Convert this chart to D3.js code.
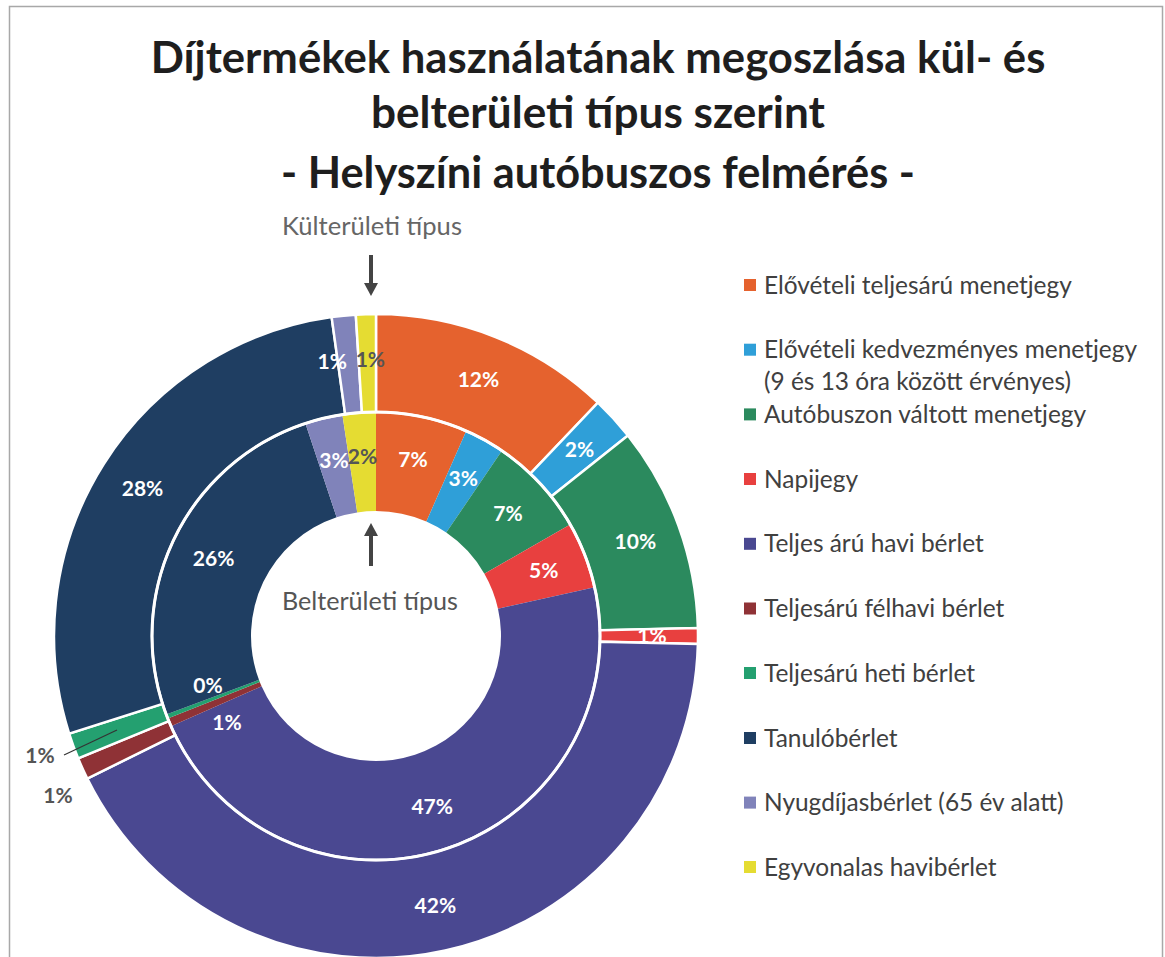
<!DOCTYPE html>
<html>
<head>
<meta charset="utf-8">
<script src="https://cdn.jsdelivr.net/npm/d3@7"></script>
<style>
  body { margin: 0; background: #fff; }
  svg text { font-family: Lato, "Open Sans", sans-serif; }
</style>
</head>
<body>
<div id="chart"></div>
<script>
// ticket types (legend order = slice order, clockwise from 12 o'clock)
var categories = [
  "Elővételi teljesárú menetjegy",
  "Elővételi kedvezményes menetjegy\n(9 és 13 óra között érvényes)",
  "Autóbuszon váltott menetjegy",
  "Napijegy",
  "Teljes árú havi bérlet",
  "Teljesárú félhavi bérlet",
  "Teljesárú heti bérlet",
  "Tanulóbérlet",
  "Nyugdíjasbérlet (65 év alatt)",
  "Egyvonalas havibérlet"
];
// outer ring: Külterületi típus (%)
var kulterulet = [12.1, 2.2, 10.3, 0.8, 42.3, 1.1, 1.3, 27.7, 1.2, 1.0];
// inner ring: Belterületi típus (%)
var belterulet = [6.6, 2.9, 7.2, 4.8, 46.9, 0.6, 0.3, 25.6, 2.7, 2.4];
var colors = ["#E5622E", "#2F9FD8", "#2B8A5E", "#E8403F", "#4A4891",
              "#8F3236", "#24A070", "#1F3E62", "#8083BA", "#E5DC32"];
var titleLines = [
  "Díjtermékek használatának megoszlása kül- és",
  "belterületi típus szerint",
  "- Helyszíni autóbuszos felmérés -"
];

var W = 1165, H = 957;
var cx = 376, cy = 636;
var rHole = 125, rMid = 224, rOut = 322;

var svg = d3.select("#chart").append("svg")
    .attr("width", W)
    .attr("height", H);

// frame
svg.append("rect")
    .attr("x", 9.5).attr("y", 6.5)
    .attr("width", 1153).attr("height", 980)
    .attr("fill", "none")
    .attr("stroke", "#a8a8a8")
    .attr("stroke-width", 1.5);

function fit(sel, w) {
  var len = sel.node().getComputedTextLength();
  sel.attr("font-size", parseFloat(sel.attr("font-size")) * w / len);
}

// title
var titleY = [73, 128, 188], titleW = [895, 454, 634];
titleLines.forEach(function(t, i) {
  var tx = svg.append("text")
      .attr("x", 598).attr("y", titleY[i])
      .attr("text-anchor", "middle")
      .attr("font-size", 40)
      .attr("font-weight", 700)
      .attr("fill", "#1e1e1e")
      .text(t);
  fit(tx, titleW[i]);
});

var scaleColor = d3.scaleOrdinal().domain(categories).range(colors);
var pie = d3.pie().sort(null).value(function(d) { return d; });

var g = svg.append("g").attr("transform", "translate(" + cx + "," + cy + ")");

var arcIn = d3.arc().innerRadius(rHole).outerRadius(rMid);
var arcOut = d3.arc().innerRadius(rMid).outerRadius(rOut);
var labIn = d3.arc().innerRadius(180).outerRadius(180);
var labOut = d3.arc().innerRadius(276).outerRadius(276);

var pIn = pie(belterulet), pOut = pie(kulterulet);

g.append("g").attr("class", "inner").selectAll("path").data(pIn).enter().append("path")
    .attr("d", arcIn)
    .attr("fill", function(d, i) { return scaleColor(categories[i]); });

g.append("g").attr("class", "outer").selectAll("path").data(pOut).enter().append("path")
    .attr("d", arcOut)
    .attr("fill", function(d, i) { return scaleColor(categories[i]); })
    .attr("stroke", "#fff")
    .attr("stroke-width", 2.5);

g.append("circle").attr("r", rMid)
    .attr("fill", "none").attr("stroke", "#fff").attr("stroke-width", 3);

var fmt = function(v) { return Math.round(v) + "%"; };

// label nudges for crowded slices (dx, dy)
var nudgeIn = {5: [17, 17], 6: [0, -15]};
var nudgeOut = {8: [-16, 0], 9: [3, 0]};
var outsideOut = {5: [58, 796], 6: [40, 756]};

function drawLabels(parts, arc, nudge, outside) {
  g.append("g").selectAll("text").data(parts).enter().append("text")
      .attr("transform", function(d, i) {
        var c = arc.centroid(d);
        if (outside && outside[i]) return "translate(" + (outside[i][0] - cx) + "," + (outside[i][1] - cy) + ")";
        var n = nudge[i] || [0, 0];
        return "translate(" + (c[0] + n[0]) + "," + (c[1] + n[1]) + ")";
      })
      .attr("text-anchor", "middle")
      .attr("dy", "0.35em")
      .attr("font-size", 21)
      .attr("font-weight", 700)
      .attr("fill", function(d, i) {
        if (outside && outside[i]) return "#555";
        return i === 9 ? "#555" : "#fff";
      })
      .text(function(d) { return fmt(d.data); });
}
drawLabels(pIn, labIn, nudgeIn, null);
drawLabels(pOut, labOut, nudgeOut, outsideOut);

// leader line for the heti label
svg.append("line")
    .attr("x1", 64).attr("y1", 755).attr("x2", 117).attr("y2", 730)
    .attr("stroke", "#333").attr("stroke-width", 1.2);

// ring captions with arrows
function arrow(x, yTail, yTip) {
  var dir = yTip > yTail ? 1 : -1;
  svg.append("line").attr("x1", x).attr("x2", x)
      .attr("y1", yTail).attr("y2", yTip - dir * 12)
      .attr("stroke", "#444").attr("stroke-width", 4);
  svg.append("path")
      .attr("d", "M" + (x - 7) + "," + (yTip - dir * 13) + "L" + (x + 7) + "," + (yTip - dir * 13) + "L" + x + "," + yTip + "Z")
      .attr("fill", "#444");
}
var kt = svg.append("text").attr("x", 372).attr("y", 235)
    .attr("text-anchor", "middle").attr("font-size", 19).attr("fill", "#666")
    .text("Külterületi típus");
fit(kt, 180);
arrow(371, 255, 296);

var bt = svg.append("text").attr("x", 370).attr("y", 610)
    .attr("text-anchor", "middle").attr("font-size", 21).attr("fill", "#555")
    .text("Belterületi típus");
fit(bt, 176);
arrow(371, 566, 523);

// legend
var legendY = [285, 349.7, 414.4, 479, 543.8, 608.5, 673, 738, 802.6, 867];
var lg = svg.append("g").attr("class", "legend");
var lfs = 21;
categories.forEach(function(c, i) {
  lg.append("rect")
      .attr("x", 744).attr("y", legendY[i] - 6)
      .attr("width", 12).attr("height", 12)
      .attr("fill", scaleColor(c));
  var t = lg.append("text")
      .attr("x", 764).attr("y", legendY[i])
      .attr("font-size", lfs)
      .attr("fill", "#404040");
  c.split("\n").forEach(function(line, k) {
    t.append("tspan").attr("x", 764).attr("dy", k === 0 ? "0.35em" : 32).text(line);
  });
  if (i === 0) {
    fit(t, 308);
    lfs = parseFloat(t.attr("font-size"));
  }
});
</script>
</body>
</html>
